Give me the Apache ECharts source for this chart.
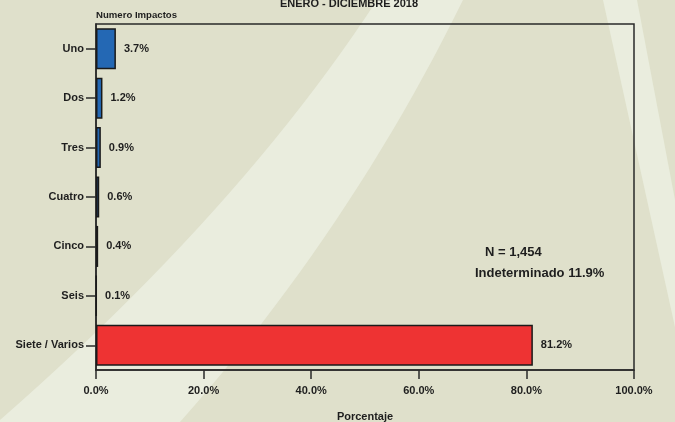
<!DOCTYPE html>
<html>
<head>
<meta charset="utf-8">
<script src="https://cdn.jsdelivr.net/npm/echarts@6/dist/echarts.min.js"></script>
<style>
  html, body { margin: 0; padding: 0; background: #dfe0cb; }
  #chart { width: 675px; height: 422px; }
</style>
</head>
<body>
<div id="chart"></div>
<script>
// Number of impacts per event, share of total (%)
const categories = ['Uno', 'Dos', 'Tres', 'Cuatro', 'Cinco', 'Seis', 'Siete / Varios'];
const percentages = [3.7, 1.2, 0.9, 0.6, 0.4, 0.1, 81.2];
const barColors = ['#2468b4', '#2468b4', '#2468b4', '#2468b4', '#2468b4', '#2468b4', '#ee3333'];
const xTicks = [0, 20, 40, 60, 80, 100];

const titleText = 'ENERO - DICIEMBRE 2018';
const yAxisTitle = 'Numero Impactos';
const xAxisTitle = 'Porcentaje';
const noteTotal = 'N = 1,454';
const noteUndetermined = 'Indeterminado 11.9%';

const FONT = '"Liberation Sans", Arial, Helvetica, sans-serif';
const INK = '#1e1e1e';

// sample a quadratic curve into points for the background sweep
function quad(p0, c, p1, n) {
  const pts = [];
  for (let i = 0; i <= n; i++) {
    const t = i / n, u = 1 - t;
    pts.push([u * u * p0[0] + 2 * u * t * c[0] + t * t * p1[0],
              u * u * p0[1] + 2 * u * t * c[1] + t * t * p1[1]]);
  }
  return pts;
}
const sweep = [].concat(
  quad([377, 0], [240, 210], [0, 420], 24), // left edge, top to bottom
  [[0, 422]],
  quad([180, 422], [350, 230], [463, 0], 24) // right edge, bottom to top
);

const chart = echarts.init(document.getElementById('chart'), null, { renderer: 'canvas' });

chart.setOption({
  backgroundColor: '#dfe0cb',
  animation: false,
  textStyle: { fontFamily: FONT },
  graphic: {
    elements: [
      {
        type: 'polygon', silent: true, z: -10,
        shape: { points: sweep },
        style: { fill: '#eaedde' }
      },
      {
        type: 'polygon', silent: true, z: -10,
        shape: { points: [[603, 0], [637, 0], [675, 200], [675, 327]] },
        style: { fill: '#eaedde' }
      },
      {
        type: 'text', silent: true, x: 349, y: 4,
        style: { text: titleText, font: 'bold 11px ' + FONT, fill: INK, align: 'center', verticalAlign: 'middle' }
      },
      {
        type: 'text', silent: true, x: 96, y: 15,
        style: { text: yAxisTitle, font: 'bold 9.6px ' + FONT, fill: INK, align: 'left', verticalAlign: 'middle' }
      },
      {
        type: 'text', silent: true, x: 485, y: 252,
        style: { text: noteTotal, font: 'bold 13px ' + FONT, fill: INK, align: 'left', verticalAlign: 'middle' }
      },
      {
        type: 'text', silent: true, x: 475, y: 273.5,
        style: { text: noteUndetermined, font: 'bold 13px ' + FONT, fill: INK, align: 'left', verticalAlign: 'middle' }
      }
    ]
  },
  grid: {
    left: 96, right: 41, top: 24, bottom: 52,
    outerBoundsMode: 'none',
    show: true,
    backgroundColor: 'transparent',
    borderColor: '#2a2a2a',
    borderWidth: 1.5
  },
  xAxis: {
    type: 'value',
    min: xTicks[0],
    max: xTicks[xTicks.length - 1],
    interval: xTicks[1] - xTicks[0],
    name: xAxisTitle,
    nameLocation: 'middle',
    nameGap: 41,
    nameTextStyle: { fontWeight: 'bold', fontSize: 11, color: INK, fontFamily: FONT },
    splitLine: { show: false },
    axisLine: { show: true, lineStyle: { color: '#2a2a2a', width: 1.5 } },
    axisTick: { show: true, inside: false, length: 9, lineStyle: { color: '#2a2a2a', width: 1.5 } },
    axisLabel: {
      margin: 15,
      fontWeight: 'bold', fontSize: 11, color: INK, fontFamily: FONT,
      formatter: v => v.toFixed(1) + '%'
    }
  },
  yAxis: {
    type: 'category',
    data: categories,
    inverse: true,
    axisLine: { show: true, lineStyle: { color: '#2a2a2a', width: 1.5 } },
    axisTick: { show: true, alignWithLabel: true, length: 10, lineStyle: { color: '#2a2a2a', width: 1.5 } },
    axisLabel: {
      margin: 12,
      fontWeight: 'bold', fontSize: 11, color: INK, fontFamily: FONT
    },
    splitLine: { show: false }
  },
  series: [{
    type: 'bar',
    data: percentages.map((v, i) => ({ value: v, itemStyle: { color: barColors[i] } })),
    barCategoryGap: '17%',
    itemStyle: { borderColor: '#1a1a1a', borderWidth: 1.5 },
    label: {
      show: true,
      position: 'right',
      distance: 8,
      fontWeight: 'bold', fontSize: 11, color: INK, fontFamily: FONT,
      formatter: p => p.value.toFixed(1) + '%'
    }
  }]
});
</script>
</body>
</html>
